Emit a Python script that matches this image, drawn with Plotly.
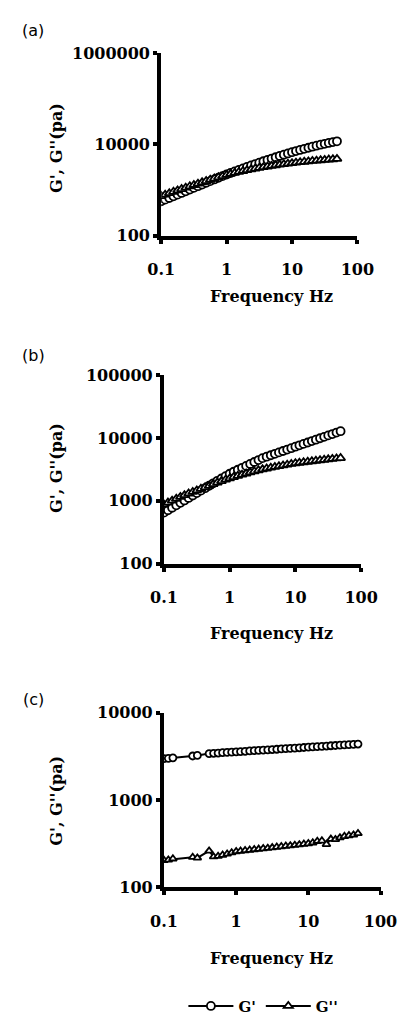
import plotly.graph_objects as go

W, H = 417, 1028

# ---------------- data ----------------
freq = [0.1, 0.115, 0.133, 0.154, 0.178, 0.205, 0.237, 0.274, 0.316, 0.365,
        0.422, 0.487, 0.562, 0.649, 0.750, 0.866, 1.0, 1.15, 1.33, 1.54,
        1.78, 2.05, 2.37, 2.74, 3.16, 3.65, 4.22, 4.87, 5.62, 6.49,
        7.50, 8.66, 10.0, 11.5, 13.3, 15.4, 17.8, 20.5, 23.7, 27.4,
        31.6, 36.5, 42.2, 48.7]

gp_a = [570, 618, 671, 729, 794, 865, 942, 1026, 1117, 1216,
        1324, 1442, 1570, 1710, 1862, 2023, 2198, 2377, 2570, 2773,
        2992, 3221, 3467, 3724, 3999, 4285, 4592, 4909, 5248, 5598,
        5970, 6353, 6761, 7161, 7586, 8017, 8472, 8933, 9397, 9863,
        10328, 10789, 11246, 11722]
gpp_a = [741, 796, 855, 918, 984, 1054, 1130, 1211, 1294, 1384,
         1479, 1578, 1683, 1791, 1905, 2023, 2148, 2265, 2382, 2500,
         2618, 2735, 2851, 2965, 3076, 3184, 3289, 3396, 3499, 3606,
         3707, 3802, 3899, 3990, 4083, 4169, 4256, 4345, 4426, 4508,
         4592, 4667, 4742, 4819]

gp_b = [646, 706, 773, 845, 925, 1012, 1107, 1211, 1324, 1449,
        1585, 1734, 1897, 2075, 2259, 2466, 2692, 2897, 3112, 3342,
        3589, 3855, 4140, 4446, 4764, 5023, 5297, 5585, 5888, 6194,
        6531, 6871, 7244, 7621, 8035, 8453, 8913, 9376, 9886, 10399,
        10965, 11535, 12162, 12794]
gpp_b = [871, 935, 1005, 1076, 1151, 1227, 1303, 1380, 1462, 1549,
         1637, 1726, 1841, 1950, 2056, 2163, 2270, 2382, 2495, 2606,
         2716, 2831, 2944, 3055, 3162, 3258, 3357, 3451, 3548, 3648,
         3750, 3855, 3954, 4027, 4102, 4178, 4256, 4335, 4416, 4487,
         4560, 4634, 4710, 4786]

freq_c = [0.1, 0.115, 0.133, 0.25, 0.29,
          0.422, 0.487, 0.562, 0.649, 0.750, 0.866, 1.0, 1.15, 1.33, 1.54,
          1.78, 2.05, 2.37, 2.74, 3.16, 3.65, 4.22, 4.87, 5.62, 6.49,
          7.50, 8.66, 10.0, 11.5, 13.3, 15.4, 17.8, 20.5, 23.7, 27.4,
          31.6, 36.5, 42.2, 48.7]
gp_c = [2980, 3010, 3050, 3200, 3250,
        3412, 3436, 3459, 3491, 3516, 3540, 3573, 3597, 3622, 3656,
        3681, 3707, 3733, 3767, 3793, 3819, 3855, 3882, 3908, 3945,
        3972, 4000, 4036, 4064, 4093, 4121, 4159, 4188, 4217, 4256,
        4285, 4315, 4345, 4385]
gpp_c = [205, 207, 213, 222, 218,
         262, 225, 228, 235, 242, 250, 258, 261, 265, 268,
         272, 275, 279, 282, 286, 290, 294, 298, 301, 305,
         309, 314, 318, 325, 338, 342, 312, 358, 355, 372,
         385, 393, 400, 415]

x_tickvals = [0.1, 1, 10, 100]
x_ticktext = ["0.1", "1", "10", "100"]
y_ticks_a = [100, 10000, 1000000]
y_ticks_b = [100, 1000, 10000, 100000]
y_ticks_c = [100, 1000, 10000]
panel_labels = ["(a)", "(b)", "(c)"]
x_title = "Frequency Hz"
y_title = "G', G''(pa)"
series_names = ["G'", "G''"]

# ---------------- layout geometry (pixels) ----------------
panels = [
    dict(x=(159, 371), y=(45, 231), yr=(2, 6), yt=y_ticks_a, data=(freq, gp_a, freq, gpp_a),
         lab=(21, 22), xt=293, ytc=142),
    dict(x=(162, 375), y=(373, 565), yr=(2, 5), yt=y_ticks_b, data=(freq, gp_b, freq, gpp_b),
         lab=(21, 353), xt=636, ytc=468),
    dict(x=(162, 396), y=(717, 895), yr=(2, 4), yt=y_ticks_c, data=(freq_c, gp_c, freq_c, gpp_c),
         lab=(21, 703), xt=967, ytc=807),
]

serif_bold = dict(family="DejaVu Serif", size=16, color="black", weight="bold")

fig = go.Figure()
annotations = []
layout = {}
for k, p in enumerate(panels):
    sfx = "" if k == 0 else str(k + 1)
    xa, ya = "x" + sfx, "y" + sfx
    fx, gp, fx2, gpp = p["data"]
    msize = 8 if k < 2 else 7
    fig.add_trace(go.Scatter(
        x=fx, y=gp, mode="lines+markers", name=series_names[0],
        xaxis=xa, yaxis=ya, showlegend=(k == 0),
        line=dict(color="black", width=2),
        marker=dict(symbol="circle", size=msize, color="white",
                    line=dict(color="black", width=1.8))))
    fig.add_trace(go.Scatter(
        x=fx2, y=gpp, mode="lines+markers", name=series_names[1],
        xaxis=xa, yaxis=ya, showlegend=(k == 0),
        line=dict(color="black", width=2),
        marker=dict(symbol="triangle-up", size=msize, color="white",
                    line=dict(color="black", width=1.8))))
    layout["xaxis" + sfx] = dict(
        type="log", range=[-1, 2], domain=[p["x"][0] / W, p["x"][1] / W],
        anchor=ya, showline=True, linewidth=4, linecolor="black",
        ticks="outside", ticklen=4, tickwidth=4, tickcolor="black",
        tickvals=x_tickvals, ticktext=x_ticktext, tickfont=serif_bold,
        ticklabelstandoff=12, showgrid=False, zeroline=False)
    layout["yaxis" + sfx] = dict(
        type="log", range=list(p["yr"]),
        domain=[1 - p["y"][1] / H, 1 - p["y"][0] / H],
        anchor=xa, showline=True, linewidth=4, linecolor="black",
        ticks="outside", ticklen=4, tickwidth=4, tickcolor="black",
        tickvals=p["yt"], ticktext=[str(v) for v in p["yt"]],
        tickfont=serif_bold, showgrid=False, zeroline=False)
    annotations.append(dict(
        x=p["lab"][0] / W, y=1 - p["lab"][1] / H, xref="paper", yref="paper",
        text=panel_labels[k], showarrow=False, xanchor="center", yanchor="middle",
        font=dict(family="DejaVu Sans", size=16, color="black")))
    annotations.append(dict(
        x=278 / W, y=1 - p["xt"] / H, xref="paper", yref="paper",
        text=x_title, showarrow=False, xanchor="center", yanchor="middle",
        font=serif_bold))
    annotations.append(dict(
        x=46 / W, y=1 - p["ytc"] / H, xref="paper", yref="paper",
        text=y_title, showarrow=False, xanchor="center", yanchor="middle",
        textangle=-90, font=serif_bold))

fig.update_layout(
    width=W, height=H, autosize=False,
    margin=dict(l=0, r=0, t=0, b=0, pad=0),
    paper_bgcolor="white", plot_bgcolor="white",
    annotations=annotations,
    legend=dict(orientation="h", x=183 / W, y=1 - 1016 / H,
                xanchor="left", yanchor="middle",
                font=dict(family="DejaVu Serif", size=15, color="black", weight="bold"),
                itemwidth=45, bgcolor="rgba(0,0,0,0)"),
    **layout)

fig.write_html("out.html",
               config={"displayModeBar": False, "responsive": False},
               post_script="document.body.style.margin='0';document.body.style.overflow='hidden';")
